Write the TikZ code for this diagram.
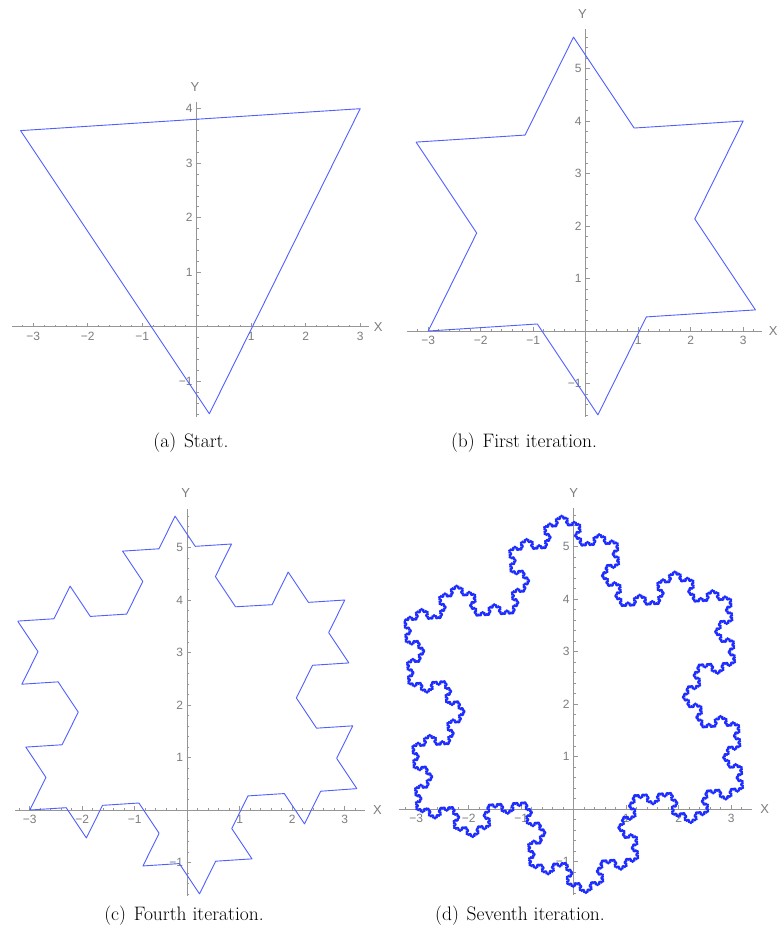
\documentclass[tikz,border=0pt]{standalone}
\usepackage{fontspec}
\setsansfont{Liberation Sans}
\usetikzlibrary{decorations.fractals}

\definecolor{axisgray}{RGB}{150,150,150}
\definecolor{labelgray}{RGB}{125,125,125}
\definecolor{kochblue}{RGB}{80,95,255}
\definecolor{deepblue}{RGB}{30,45,255}

\begin{document}
\begin{tikzpicture}[x=1pt, y=1pt,
    axis/.style={axisgray, line width=0.9pt},
    tick/.style={axisgray, line width=0.7pt},
    ticklab/.style={labelgray, font=\sffamily\fontsize{12}{12}\selectfont, inner sep=1pt},
    axlab/.style={labelgray, font=\sffamily\fontsize{13}{13}\selectfont, inner sep=0pt},
    curve/.style={kochblue, line width=0.9pt, line join=round, decoration=Koch snowflake},
    caption/.style={font=\fontsize{19.5}{19.5}\selectfont, inner sep=0pt, anchor=base}]
\useasboundingbox (0,-936) rectangle (776,0);
\fill[white] (0,-936) rectangle (776,0);

% (a) Start
\begin{scope}[shift={(196.7,-326.7)}, x=54.5pt, y=54.5pt]
  % Axes
  \draw[axis] (-3.39,0) -- (3.16,0);
  \draw[axis] (0,-1.65) -- (0,4.13);
  \foreach \t in {-16,...,15} \draw[tick] (\t/5,0) -- ++(0,2pt);
  \foreach \t in {-3,...,3} \draw[tick] (\t,0) -- ++(0,4pt);
  \foreach \t in {-8,...,20} \draw[tick] (0,\t/5) -- ++(2pt,0);
  \foreach \t in {-1,...,4} \draw[tick] (0,\t) -- ++(4pt,0);
  \foreach \i in {1,2,3} {
    \node[ticklab, below=4pt] (ax\i) at (\i,0) {\i};
    \node[ticklab, below=4pt] (ax-\i) at (-\i,0) {−\i};
  }
  \foreach \i in {1,...,4} \node[ticklab, left=3pt] (ay\i) at (0,\i) {\i};
  \node[ticklab, left=3pt] (ay-1) at (0,-1) {−1};
  \node[axlab] (xlaba) at (3.33,0) {X};
  \node[axlab] (ylaba) at (-0.03,4.4) {Y};

  % Triangle
  \coordinate (A) at (-3.232,3.598);
  \coordinate (B) at (3,4);
  \coordinate (C) at (0.232,-1.598);
  \draw[curve] (A) -- (B) -- (C) -- cycle;
\end{scope}

% (b) First iteration
\begin{scope}[shift={(585.7,-331)}, x=52.5pt, y=52.5pt]
  % Axes
  \draw[axis] (-3.4,0) -- (3.35,0);
  \draw[axis] (0,-1.63) -- (0,5.75);
  \foreach \t in {-16,...,16} \draw[tick] (\t/5,0) -- ++(0,2pt);
  \foreach \t in {-3,...,3} \draw[tick] (\t,0) -- ++(0,4pt);
  \foreach \t in {-8,...,28} \draw[tick] (0,\t/5) -- ++(2pt,0);
  \foreach \t in {-1,...,5} \draw[tick] (0,\t) -- ++(4pt,0);
  \foreach \i in {1,2,3} {
    \node[ticklab, below=4pt] (bx\i) at (\i,0) {\i};
    \node[ticklab, below=4pt] (bx-\i) at (-\i,0) {−\i};
  }
  \foreach \i in {1,...,5} \node[ticklab, left=3pt] (by\i) at (0,\i) {\i};
  \node[ticklab, left=3pt] (by-1) at (0,-1) {−1};
  \node[axlab] (xlabb) at (3.57,0) {X};
  \node[axlab] (ylabb) at (-0.06,6.04) {Y};

  % Koch curve, one step
  \coordinate (A) at (-3.232,3.598);
  \coordinate (B) at (3,4);
  \coordinate (C) at (0.232,-1.598);
  \draw[curve] decorate{(A) -- (B) -- (C) -- (A)};
\end{scope}

% (c) Fourth iteration
\begin{scope}[shift={(187.3,-810)}, x=52.5pt, y=52.5pt]
  % Axes
  \draw[axis] (-3.28,0) -- (3.38,0);
  \draw[axis] (0,-1.63) -- (0,5.74);
  \foreach \t in {-16,...,16} \draw[tick] (\t/5,0) -- ++(0,2pt);
  \foreach \t in {-3,...,3} \draw[tick] (\t,0) -- ++(0,4pt);
  \foreach \t in {-8,...,28} \draw[tick] (0,\t/5) -- ++(2pt,0);
  \foreach \t in {-1,...,5} \draw[tick] (0,\t) -- ++(4pt,0);
  \foreach \i in {1,2,3} {
    \node[ticklab, below=4pt] (cx\i) at (\i,0) {\i};
    \node[ticklab, below=4pt] (cx-\i) at (-\i,0) {−\i};
  }
  \foreach \i in {1,...,5} \node[ticklab, left=3pt] (cy\i) at (0,\i) {\i};
  \node[ticklab, left=3pt] (cy-1) at (0,-1) {−1};
  \node[axlab] (xlabc) at (3.62,0) {X};
  \node[axlab] (ylabc) at (-0.03,6.03) {Y};

  % Koch curve, two steps
  \coordinate (A) at (-3.232,3.598);
  \coordinate (B) at (3,4);
  \coordinate (C) at (0.232,-1.598);
  \draw[curve] decorate{decorate{(A) -- (B) -- (C) -- (A)}};
\end{scope}

% (d) Seventh iteration
\begin{scope}[shift={(573.7,-809.3)}, x=52.5pt, y=52.5pt]
  % Axes
  \draw[axis] (-3.32,0) -- (3.39,0);
  \draw[axis] (0,-1.63) -- (0,5.74);
  \foreach \t in {-16,...,16} \draw[tick] (\t/5,0) -- ++(0,2pt);
  \foreach \t in {-3,...,3} \draw[tick] (\t,0) -- ++(0,4pt);
  \foreach \t in {-8,...,28} \draw[tick] (0,\t/5) -- ++(2pt,0);
  \foreach \t in {-1,...,5} \draw[tick] (0,\t) -- ++(4pt,0);
  \foreach \i in {1,2,3} {
    \node[ticklab, below=4pt] (dx\i) at (\i,0) {\i};
    \node[ticklab, below=4pt] (dx-\i) at (-\i,0) {−\i};
  }
  \foreach \i in {1,...,5} \node[ticklab, left=3pt] (dy\i) at (0,\i) {\i};
  \node[ticklab, left=3pt] (dy-1) at (0,-1) {−1};
  \node[axlab] (xlabd) at (3.64,0) {X};
  \node[axlab] (ylabd) at (0,6.02) {Y};

  % Koch curve, five steps
  \coordinate (A) at (-3.232,3.598);
  \coordinate (B) at (3,4);
  \coordinate (C) at (0.232,-1.598);
  \draw[curve, deepblue, line width=1.9pt]
    decorate{decorate{decorate{decorate{decorate{(A) -- (B) -- (C) -- (A)}}}}};
\end{scope}

% Captions
\node[caption] (capa) at (191,-447) {(a)\hspace{0.4em}Start.};
\node[caption] (capb) at (524,-447) {(b)\hspace{0.4em}First iteration.};
\node[caption] (capc) at (184,-920) {(c)\hspace{0.4em}Fourth iteration.};
\node[caption] (capd) at (520,-920) {(d)\hspace{0.4em}Seventh iteration.};
\end{tikzpicture}
\end{document}
